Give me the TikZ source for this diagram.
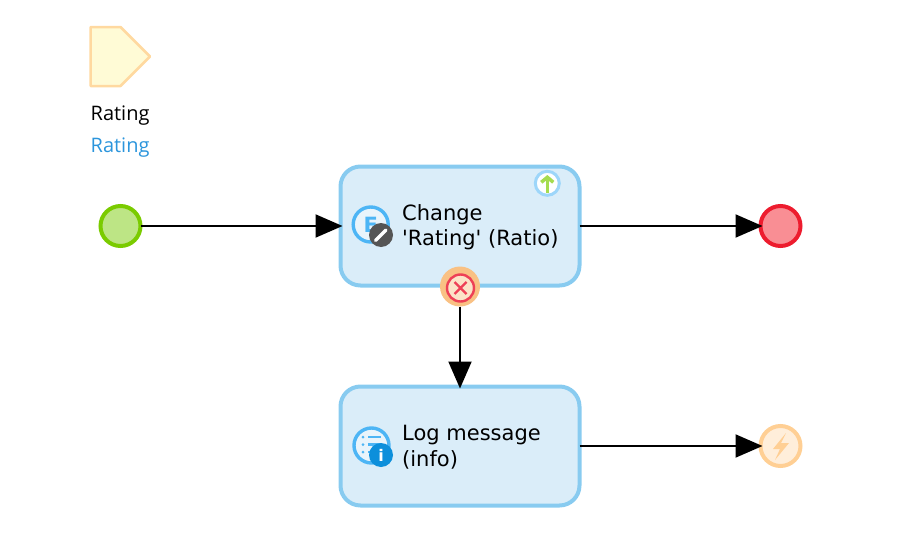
\documentclass[tikz,border=0pt]{standalone}
\usepackage{fontspec}
\setmainfont{Open Sans}
\newfontfamily\boxfont{DejaVu Sans}
\usetikzlibrary{arrows.meta}
\definecolor{boxline}{HTML}{88CBF0}
\definecolor{boxfill}{HTML}{DAEDF9}
\definecolor{iconblue}{HTML}{4DB5F5}
\definecolor{infoblue}{HTML}{0D8FDB}
\definecolor{startline}{HTML}{7ACB00}
\definecolor{startfill}{HTML}{BDE585}
\definecolor{endline}{HTML}{ED1C2E}
\definecolor{endfill}{HTML}{F98E94}
\definecolor{errline}{HTML}{FFCF94}
\definecolor{errfill}{HTML}{FFEEDA}
\definecolor{handlerfill}{HTML}{F9C184}
\definecolor{handlerred}{HTML}{EE4056}
\definecolor{paramline}{HTML}{FFD9A0}
\definecolor{paramfill}{HTML}{FFFBD6}
\definecolor{pencilgrey}{HTML}{555555}
\definecolor{namecolor}{HTML}{2B95DC}
\definecolor{uploadgreen}{HTML}{A5DC50}
\tikzset{
  event/.style={circle,draw,line width=4pt,minimum size=40pt,inner sep=0pt,outer sep=0pt},
  activity/.style={draw=boxline,fill=boxfill,line width=4pt,rounded corners=20pt,
    minimum width=239pt,minimum height=119pt,inner sep=0pt,outer sep=0pt},
  caption/.style={align=left,anchor=west,font=\boxfont\fontsize{21}{25.5}\selectfont,inner sep=0pt},
  paramtext/.style={anchor=west,font=\fontsize{20}{24}\selectfont,inner sep=0pt},
  flow/.style={line width=2pt,shorten >=-2pt,-{Triangle[length=27pt,width=23pt]}},
  roundicon/.style={circle,draw=iconblue,line width=3.4pt,fill=boxfill!60!white,minimum size=35pt,inner sep=0pt},
  badge/.style={circle,minimum size=24pt,inner sep=0pt,text=white}
}
\begin{document}
\begin{tikzpicture}[x=1pt,y=-1pt]
	\useasboundingbox (0,0) rectangle (906,538);
	% parameter
	\draw[draw=paramline,fill=paramfill,line width=2.5pt,line join=round] (90.5,27)-- (120.5,27)-- (150,56.5)-- (120.5,86)-- (90.5,86)-- cycle;
	\node[paramtext] (paramtype) at (90.5,115.5) {Rating};
	\node[paramtext,text=namecolor] (paramname) at (90.5,147.5) {Rating};
	% events and activities
	\node[event,draw=startline,fill=startfill] (start) at (120.5,226) {};
	\node[activity] (change) at (460,226) {};
	\node[activity] (log) at (460,446) {};
	\node[event,draw=endline,fill=endfill] (end) at (780.5,226) {};
	\node[event,draw=errline,fill=errfill] (errend) at (780.5,446) {};
	\fill[errline] (786,433)-- (773,449)-- (780,449)-- (775,460)-- (789,443)-- (781,443)-- cycle;
	\node[caption] (changetext) at (402,227) {Change\\'Rating' (Ratio)};
	\node[caption] (logtext) at (402,447) {Log message\\(info)};
	% upload marker
	\node[circle,draw=iconblue!55!white,line width=3pt,fill=white,minimum size=24pt,inner sep=0pt] (upload) at (547.3,183.3) {};
	\draw[color=uploadgreen,line width=3.5pt,-{Straight Barb[length=5pt,width=12pt]}] (547.3,193)-- (547.3,175);
	% change icon
	\node[roundicon,font=\boxfont\fontsize{21}{21}\selectfont\bfseries,text=iconblue] (changeicon) at (370.7,224.5) {E};
	\node[badge,fill=pencilgrey] (changebadge) at (381,235) {};
	\draw[white,line width=3.5pt,line cap=round] (375.5,240.5)-- (386,230);
	% log icon
	\node[roundicon] (logicon) at (371.5,445.5) {};
	\foreach \y in {437,444.5,452}{
		\fill[iconblue] (363,\y) circle (1.5pt);
		\draw[iconblue,line width=2.2pt] (368,\y)-- (381,\y);
	}
	\node[badge,fill=infoblue,font=\boxfont\fontsize{16}{16}\selectfont\bfseries] (logbadge) at (381,455) {i};
	% error handler
	\node[circle,fill=handlerfill,minimum size=40pt,inner sep=0pt] (handler) at (460,286.5) {};
	\node[circle,draw=handlerred,line width=2.4pt,fill=handlerfill!45!white,minimum size=27pt,inner sep=0pt] (handlermark) at (460.5,288) {};
	\draw[handlerred,line width=2.4pt] (454.5,282)-- (466.5,294) (466.5,282)-- (454.5,294);
	% flows
	\draw[flow] (start)-- (change);
	\draw[flow] (change)-- (end);
	\draw[flow] (handler)-- (log);
	\draw[flow] (log)-- (errend);
\end{tikzpicture}
\end{document}
